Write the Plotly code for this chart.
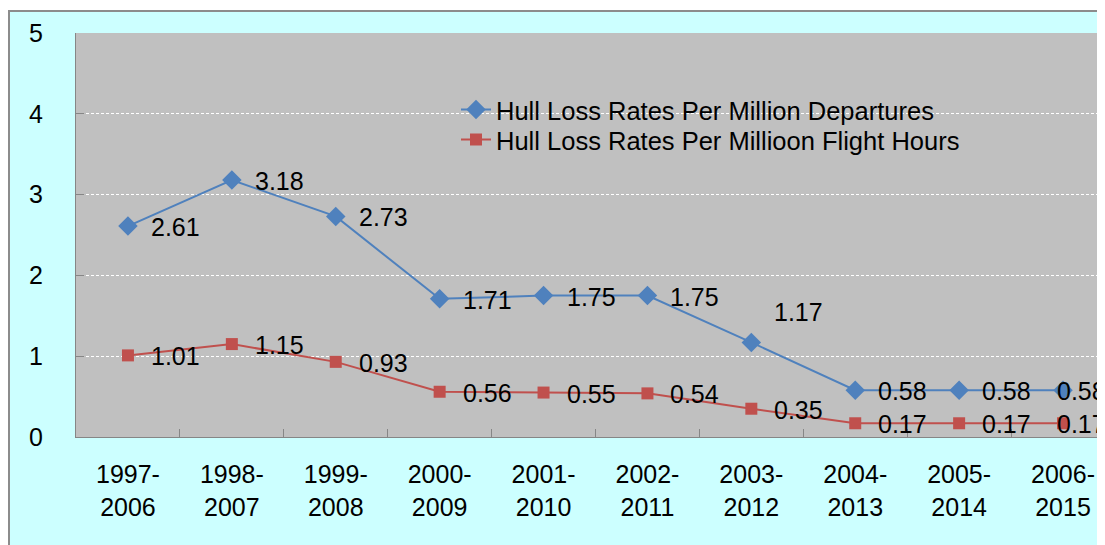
import plotly.graph_objects as go

periods = ["1997-<br>2006", "1998-<br>2007", "1999-<br>2008", "2000-<br>2009", "2001-<br>2010",
           "2002-<br>2011", "2003-<br>2012", "2004-<br>2013", "2005-<br>2014", "2006-<br>2015"]
per_departures = [2.61, 3.18, 2.73, 1.71, 1.75, 1.75, 1.17, 0.58, 0.58, 0.58]
per_flight_hours = [1.01, 1.15, 0.93, 0.56, 0.55, 0.54, 0.35, 0.17, 0.17, 0.17]

BLUE = "#4F81BD"
RED = "#C0504D"
FONT = "Liberation Sans, Arial, sans-serif"

# the page body has an 8px margin, so the figure sits at (8, 8) in the window
W, H = 1097, 537
OFF = 8

fig = go.Figure()

fig.add_trace(go.Scatter(
    x=periods, y=per_departures, mode="lines+markers",
    name="Hull Loss Rates Per Million Departures",
    line=dict(color=BLUE, width=2),
    marker=dict(symbol="diamond", size=15, color=BLUE),
    legend="legend",
))
fig.add_trace(go.Scatter(
    x=periods, y=per_flight_hours, mode="lines+markers",
    name="Hull Loss Rates Per Millioon Flight Hours",
    line=dict(color=RED, width=2),
    marker=dict(symbol="square", size=12, color=RED),
    legend="legend2",
))

# data labels, right of each point (Excel style)
n = len(periods)
for series in (per_departures, per_flight_hours):
    for i, (p, v) in enumerate(zip(periods, series)):
        xs = -8 if i == n - 1 else 21
        ys = 30 if (series is per_departures and v == 1.17) else -1
        fig.add_annotation(
            x=p, y=v, text=f"{v:.2f}", showarrow=False,
            xanchor="left", yanchor="middle", xshift=xs, yshift=ys,
            font=dict(size=25, color="black", family=FONT),
        )


# window pixel -> paper coordinate (plot area spans x 76..1105, y 33..437)
def px_x(px):
    return (px - 76) / 1029


def px_y(py):
    return (437 - py) / 404


fig.add_shape(type="rect", xref="paper", yref="paper",
              x0=px_x(-5), x1=px_x(1200), y0=px_y(-5), y1=px_y(10),
              fillcolor="white", line=dict(width=0))
fig.add_shape(type="rect", xref="paper", yref="paper",
              x0=px_x(-5), x1=px_x(8), y0=px_y(-5), y1=px_y(600),
              fillcolor="white", line=dict(width=0))
fig.add_shape(type="rect", xref="paper", yref="paper",
              x0=px_x(9), x1=px_x(1200), y0=px_y(11), y1=px_y(600),
              line=dict(color="#8C8C8C", width=2))

legend_style = dict(xanchor="left", yanchor="middle",
                    bgcolor="rgba(0,0,0,0)", font=dict(size=25.5))
fig.update_layout(
    width=W, height=H,
    margin=dict(l=76 - OFF, r=0, t=33 - OFF, b=H - (437 - OFF)),
    paper_bgcolor="#CCFFFF",
    plot_bgcolor="#C0C0C0",
    font=dict(family=FONT, size=25, color="black"),
    showlegend=True,
    legend=dict(x=px_x(456), y=px_y(110), **legend_style),
    legend2=dict(x=px_x(456), y=px_y(140), **legend_style),
)

fig.update_xaxes(
    range=[-0.5, 9.404],
    showline=True, linecolor="#868686", linewidth=1,
    ticks="inside", ticklen=8, tickcolor="#868686", tickson="boundaries",
    showgrid=False, ticklabelstandoff=15,
    tickfont=dict(size=25),
)
fig.update_yaxes(
    range=[0, 5], dtick=1,
    showline=True, linecolor="#868686", linewidth=1,
    ticks="inside", ticklen=8, tickcolor="#868686",
    showgrid=True, gridcolor="white", gridwidth=1, griddash="3px,2px",
    zeroline=False, ticklabelstandoff=27,
    tickfont=dict(size=25),
)

fig.write_html("out.html")
